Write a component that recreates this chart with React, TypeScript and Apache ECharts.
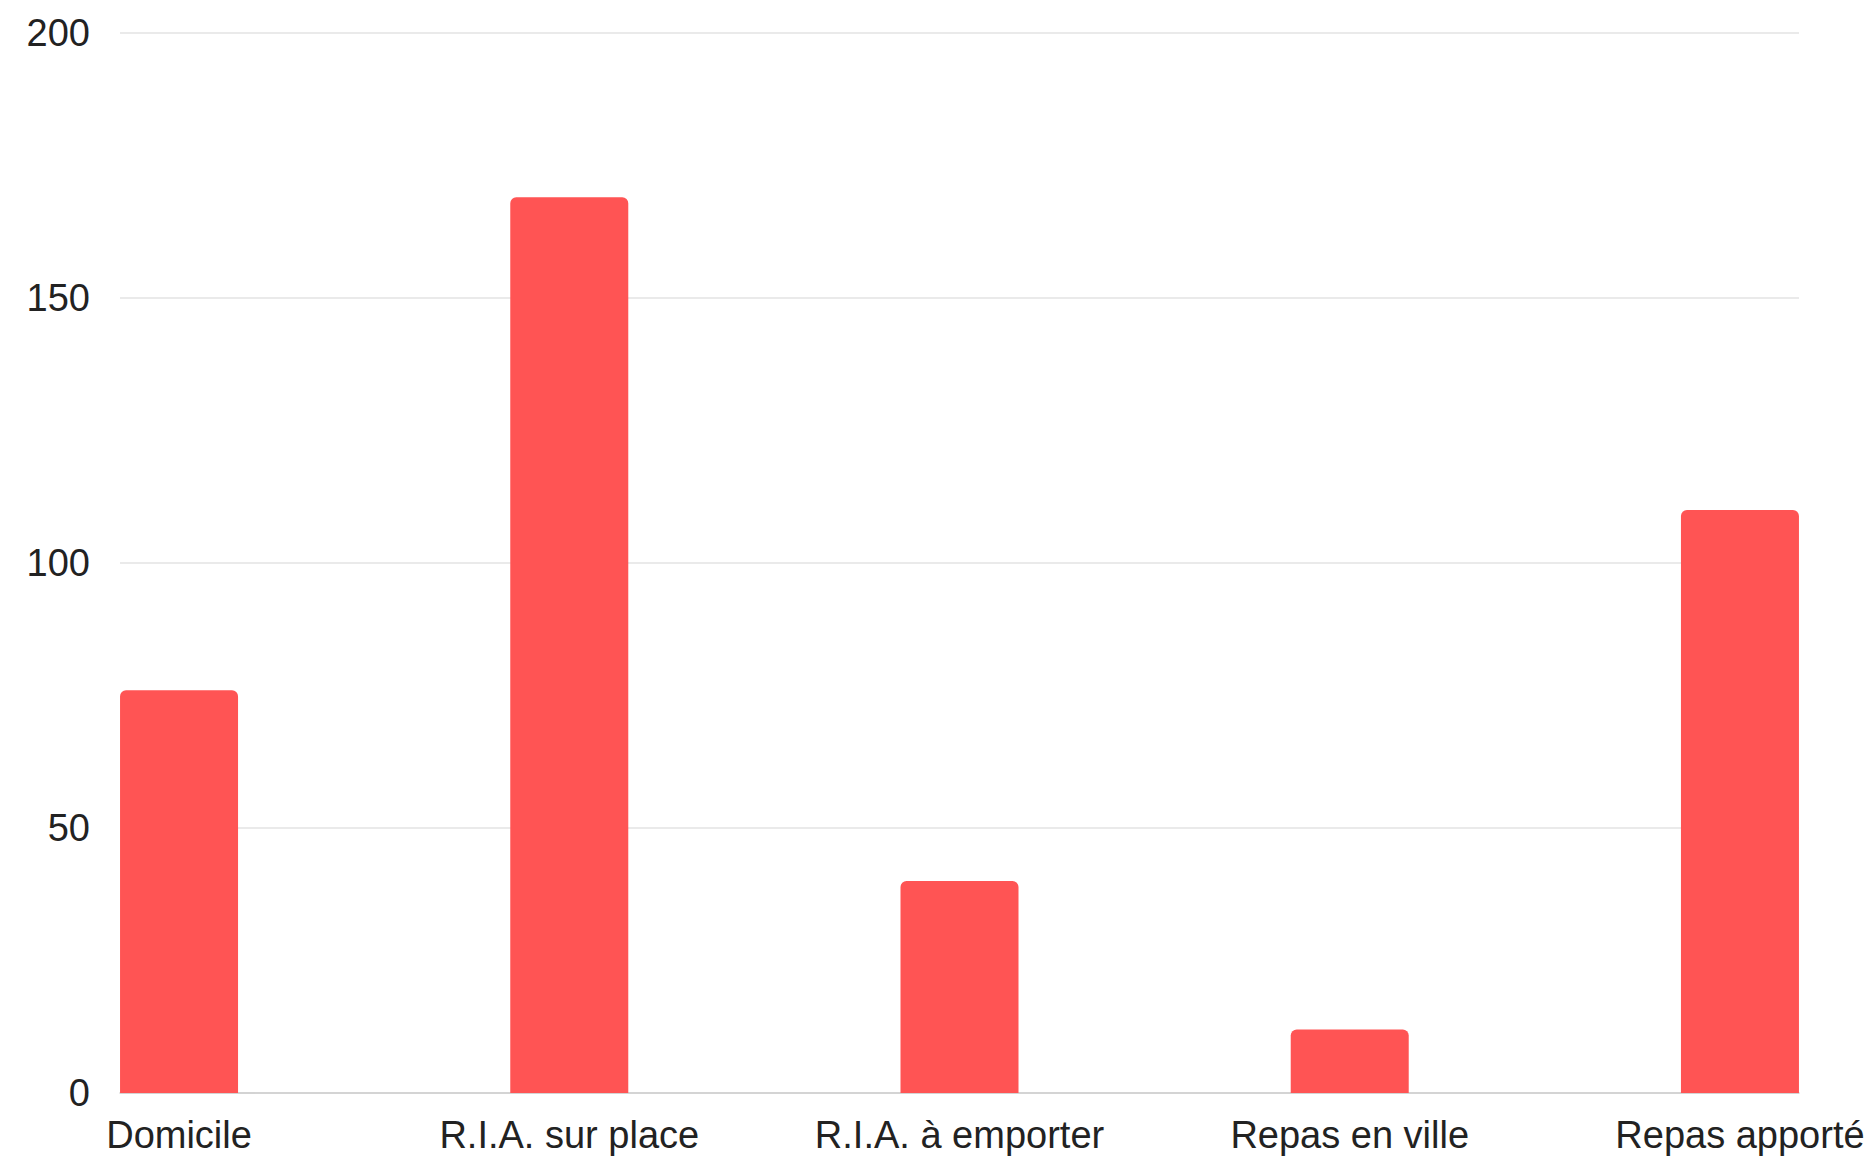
import React, { useEffect, useRef } from "react";
import * as echarts from "echarts";

const categories = ["Domicile", "R.I.A. sur place", "R.I.A. à emporter", "Repas en ville", "Repas apporté"];
const values = [76, 169, 40, 12, 110];
const yTicks = [0, 50, 100, 150, 200];

export default function App() {
  const ref = useRef<HTMLDivElement>(null);
  useEffect(() => {
    document.body.style.margin = "0";
    const chart = echarts.init(ref.current!, null, { renderer: "svg" });
    const font = "'Liberation Sans', Arial, sans-serif";
    chart.setOption({
      animation: false,
      backgroundColor: "#ffffff",
      grid: { left: 120, right: 73, top: 33, bottom: 66, containLabel: false },
      xAxis: {
        type: "value",
        min: -0.1513,
        max: 4.1513,
        splitLine: { show: false },
        axisTick: { show: false },
        axisLine: { show: true, lineStyle: { color: "#cccccc", width: 1.5 } },
        axisLabel: {
          customValues: [0, 1, 2, 3, 4],
          formatter: (v: number) => categories[Math.round(v)],
          color: "#222222",
          fontSize: 38,
          fontFamily: font,
          margin: 23,
        },
      },
      yAxis: {
        type: "value",
        min: yTicks[0],
        max: yTicks[yTicks.length - 1],
        interval: 50,
        axisLine: { show: false },
        axisTick: { show: false },
        splitLine: { show: true, lineStyle: { color: "#e3e3e3", width: 1.5 } },
        axisLabel: {
          color: "#222222",
          fontSize: 38,
          fontFamily: font,
          margin: 30,
        },
      },
      series: [
        {
          type: "bar",
          data: values.map((v, i) => [i, v]),
          barWidth: 118,
          itemStyle: { color: "#ff5454", borderRadius: [6, 6, 0, 0] },
        },
      ],
    });
    return () => chart.dispose();
  }, []);
  return <div ref={ref} style={{ width: 1872, height: 1159 }} />;
}
